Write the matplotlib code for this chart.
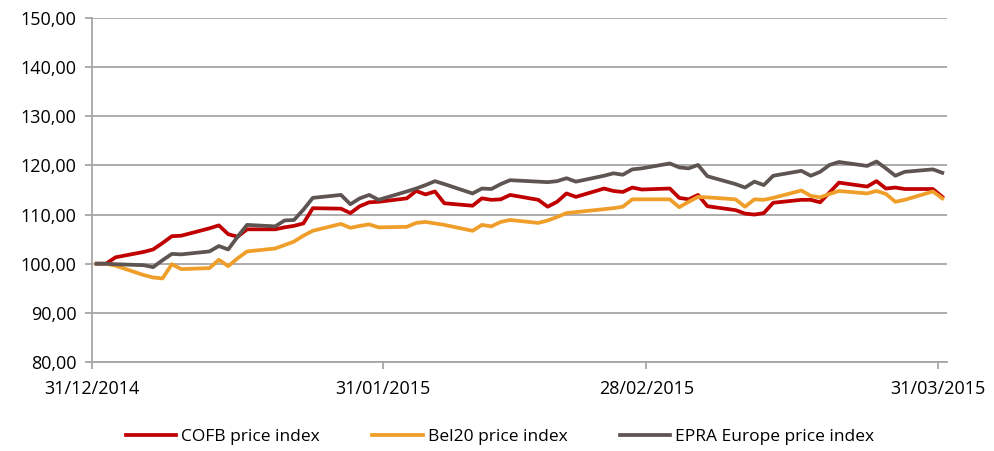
import matplotlib
matplotlib.use("Agg")
import matplotlib.pyplot as plt
import matplotlib.dates as mdates
from matplotlib.ticker import FuncFormatter, FixedLocator
import pandas as pd

start_date = "2014-12-31"
end_date = "2015-03-31"

cofb = [100.0, 100.0, 101.3, 102.4, 102.9, 104.2, 105.6, 105.7,
        107.2, 107.8, 106.0, 105.5, 107.0,
        107.0, 107.4, 107.7, 108.2, 111.3,
        111.2, 110.3, 111.7, 112.5, 112.6,
        113.3, 114.8, 114.1, 114.7, 112.3,
        111.8, 113.3, 113.0, 113.1, 114.0,
        113.0, 111.6, 112.6, 114.3, 113.6,
        115.3, 114.8, 114.6, 115.5, 115.1,
        115.3, 113.4, 113.1, 114.0, 111.7,
        110.9, 110.2, 110.0, 110.3, 112.4,
        113.0, 113.0, 112.5, 114.5, 116.5,
        115.7, 116.8, 115.3, 115.5, 115.2,
        115.2, 113.6]

bel20 = [100.0, 100.0, 99.6, 97.7, 97.2, 97.0, 99.9, 98.9,
         99.1, 100.8, 99.5, 101.1, 102.5,
         103.1, 103.8, 104.5, 105.7, 106.7,
         108.1, 107.3, 107.7, 108.0, 107.4,
         107.5, 108.3, 108.5, 108.2, 107.9,
         106.7, 107.9, 107.6, 108.5, 108.9,
         108.3, 108.8, 109.5, 110.3, 110.5,
         111.1, 111.3, 111.6, 113.1, 113.1,
         113.1, 111.5, 112.6, 113.6, 113.5,
         113.1, 111.6, 113.1, 113.0, 113.4,
         114.9, 113.8, 113.5, 114.2, 114.8,
         114.3, 114.8, 114.2, 112.6, 113.0,
         114.7, 113.3]

epra = [100.0, 100.0, 99.9, 99.7, 99.3, 100.7, 102.0, 101.9,
        102.5, 103.6, 102.9, 105.5, 107.9,
        107.6, 108.8, 108.9, 111.0, 113.4,
        114.0, 112.1, 113.3, 114.0, 113.0,
        114.7, 115.3, 116.0, 116.8, 116.2,
        114.3, 115.3, 115.2, 116.2, 117.0,
        116.7, 116.6, 116.8, 117.4, 116.7,
        117.9, 118.4, 118.1, 119.2, 119.4,
        120.4, 119.6, 119.4, 120.1, 117.8,
        116.2, 115.5, 116.7, 116.0, 117.9,
        118.9, 117.9, 118.7, 120.1, 120.7,
        119.9, 120.8, 119.4, 117.9, 118.7,
        119.2, 118.5]

series_names = ["COFB price index", "Bel20 price index", "EPRA Europe price index"]
series_colors = ["#C00000", "#F09E2A", "#5E5452"]
tick_dates = ["2014-12-31", "2015-01-31", "2015-02-28", "2015-03-31"]
y_ticks = [80, 90, 100, 110, 120, 130, 140, 150]

dates = pd.bdate_range(start_date, end_date)
x = dates + pd.Timedelta(hours=12)

plt.rcParams['font.family'] = ['Open Sans', 'DejaVu Sans']

fig = plt.figure(figsize=(9.95, 4.51), dpi=100)
ax = fig.add_axes([92/995, 1-362/451, (947-92)/995, (362-18)/451])

for vals, name, col in zip([cofb, bel20, epra], series_names, series_colors):
    ax.plot(x, vals, color=col, lw=2.7, label=name, solid_joinstyle='round')

ax.set_ylim(80, 150)
ax.set_xlim(pd.Timestamp(start_date), pd.Timestamp("2015-04-01"))
ax.yaxis.set_major_locator(FixedLocator(y_ticks))
ax.yaxis.set_major_formatter(FuncFormatter(lambda v, p: f"{v:.2f}".replace(".", ",")))
ax.set_xticks(pd.to_datetime(tick_dates))
ax.xaxis.set_major_formatter(mdates.DateFormatter("%d/%m/%Y"))

gridc = "#A6A6A6"
ax.grid(axis='y', color=gridc, lw=1.3)
ax.set_axisbelow(True)
for s in ['top', 'right']:
    ax.spines[s].set_visible(False)
for s in ['left', 'bottom']:
    ax.spines[s].set_color(gridc)
    ax.spines[s].set_linewidth(1.3)
ax.tick_params(axis='both', colors=gridc, length=5, width=1.3, labelsize=13, labelcolor='#000000')
ax.tick_params(axis='x', pad=8)
ax.tick_params(axis='y', pad=6)

fig.legend(loc='center', bbox_to_anchor=(500/995, 1-437/451), ncol=3, frameon=False,
           fontsize=12.5, handlelength=2.9, columnspacing=3.0, handletextpad=0.3)

fig.savefig("out.png", dpi=100)
